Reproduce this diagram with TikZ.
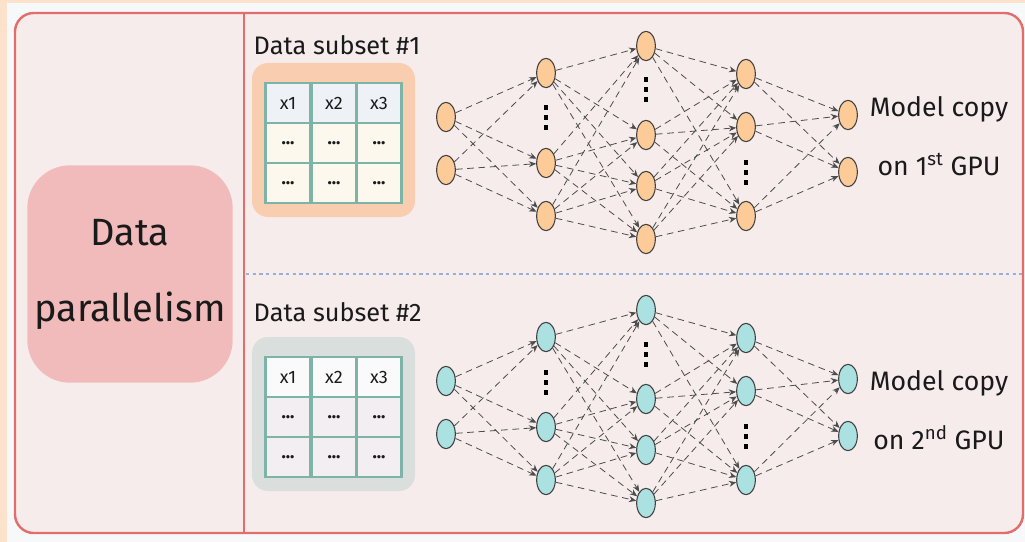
\documentclass[tikz,border=0pt]{standalone}
\usepackage{fontspec}
\setmainfont{Fira Sans}
\usetikzlibrary{shapes.geometric,arrows.meta}
\definecolor{peachbg}{HTML}{FCE2CB}
\definecolor{outerwhite}{HTML}{F7F8FA}
\definecolor{panelpink}{HTML}{F5ECEB}
\definecolor{panelred}{HTML}{E26D6B}
\definecolor{boxpink}{HTML}{F2BBBB}
\definecolor{blobpeach}{HTML}{F9CEB0}
\definecolor{blobgray}{HTML}{DADFDD}
\definecolor{gridteal}{HTML}{7EB4A8}
\definecolor{headA}{HTML}{EEF2F6}
\definecolor{bodyA}{HTML}{FDF8ED}
\definecolor{headB}{HTML}{FAFAFA}
\definecolor{bodyB}{HTML}{F2EEF1}
\definecolor{nodepeach}{HTML}{FDCB98}
\definecolor{nodeteal}{HTML}{ABE1E1}
\definecolor{dotblue}{HTML}{98AEDB}
\definecolor{inkblack}{HTML}{1A1A1A}

\begin{document}
\begin{tikzpicture}
  [x=0.75pt,y=-0.75pt,
   neuron/.style={ellipse,draw=black!75,line width=0.8pt,minimum width=14pt,minimum height=22pt,inner sep=0pt},
   link/.style={draw=black!70,line width=0.6pt,dash pattern=on 5pt off 3.5pt,-{Stealth[length=5.5pt,width=4.5pt]}},
   cell/.style={rectangle,draw=gridteal,line width=1.8pt,minimum width=34pt,minimum height=30pt,inner sep=0pt,text=inkblack,font=\fontsize{13.5}{15}\selectfont},
   big/.style={text=inkblack,font=\fontsize{19}{22}\selectfont}]

  % background and panel
  \fill[outerwhite] (0,0) rectangle (1025,542);
  \fill[peachbg] (0,0) rectangle (7,542);
  \fill[peachbg] (0,0) rectangle (1025,3);
  \draw[panelred,fill=panelpink,line width=1.8pt,rounded corners=14pt] (15,13) rectangle (1023,533);
  \draw[panelred,line width=1.3pt] (244,14) -- (244,532);
  \draw[dotblue,line width=1.4pt,dash pattern=on 2.5pt off 2.5pt] (246,274) -- (1022,274);

  \node (title) [fill=boxpink,rounded corners=32pt,minimum width=154pt,minimum height=163pt,
    align=center,text=inkblack,font=\fontsize{28.5}{57}\selectfont] at (130,274) {Data\\parallelism};

  \foreach \g/\dy/\dt/\ty/\my/\ncol/\bcol/\hcol/\rcol/\sup in
    {1/0/0/45/136/nodepeach/blobpeach/headA/bodyA/st, 2/264/274/312/410/nodeteal/blobgray/headB/bodyB/nd}
  {
    % data subset
    \node (g\g-label) [big,anchor=west] at (249,\ty) {Data subset \#\g};
    \fill[\bcol,rounded corners=12pt] (252,65+\dt-2) rectangle (415,217+\dt);
    \foreach \c/\cx in {1/288,2/334,3/379} {
      \node (g\g-h\c) [cell,fill=\hcol] at (\cx,103+\dt) {x\c};
      \node (g\g-r\c) [cell,fill=\rcol] at (\cx,143+\dt) {\textbf{...}};
      \node (g\g-s\c) [cell,fill=\rcol] at (\cx,183+\dt) {\textbf{...}};
    }

    % network
    \node (g\g-a1) [neuron,fill=\ncol] at (446,117+\dy) {};
    \node (g\g-a2) [neuron,fill=\ncol] at (446,170+\dy) {};
    \node (g\g-b1) [neuron,fill=\ncol] at (546,73+\dy) {};
    \node (g\g-b2) [neuron,fill=\ncol] at (546,163+\dy) {};
    \node (g\g-b3) [neuron,fill=\ncol] at (546,216+\dy) {};
    \node (g\g-c1) [neuron,fill=\ncol] at (646,46+\dy) {};
    \node (g\g-c2) [neuron,fill=\ncol] at (646,135+\dy) {};
    \node (g\g-c3) [neuron,fill=\ncol] at (646,186+\dy) {};
    \node (g\g-c4) [neuron,fill=\ncol] at (646,239+\dy) {};
    \node (g\g-d1) [neuron,fill=\ncol] at (746,74+\dy) {};
    \node (g\g-d2) [neuron,fill=\ncol] at (746,127+\dy) {};
    \node (g\g-d3) [neuron,fill=\ncol] at (746,216+\dy) {};
    \node (g\g-e1) [neuron,fill=\ncol] at (848,115+\dy) {};
    \node (g\g-e2) [neuron,fill=\ncol] at (848,172+\dy) {};
    % vertical dots
    \foreach \px/\py in {546/118,646/90,746/172}
      \foreach \k in {-10,0,10}
        \fill[black] (\px-2,\py+\dy+\k-2.5) rectangle +(4,5);

    \foreach \i in {1,2} \foreach \j in {1,2,3}
      \draw[link] (g\g-a\i) -- (g\g-b\j);
    \foreach \i in {1,2,3} \foreach \j in {1,2,3,4}
      \draw[link] (g\g-b\i) -- (g\g-c\j);
    \foreach \i in {1,2,3,4} \foreach \j in {1,2,3}
      \draw[link] (g\g-c\i) -- (g\g-d\j);
    \foreach \i in {1,2,3} \foreach \j in {1,2}
      \draw[link] (g\g-d\i) -- (g\g-e\j);

    \node (g\g-copy) [big,align=center,font=\fontsize{20}{44}\selectfont] at (939,\my)
      {Model copy\\on \g\textsuperscript{\sup} GPU};
  }
\end{tikzpicture}
\end{document}
